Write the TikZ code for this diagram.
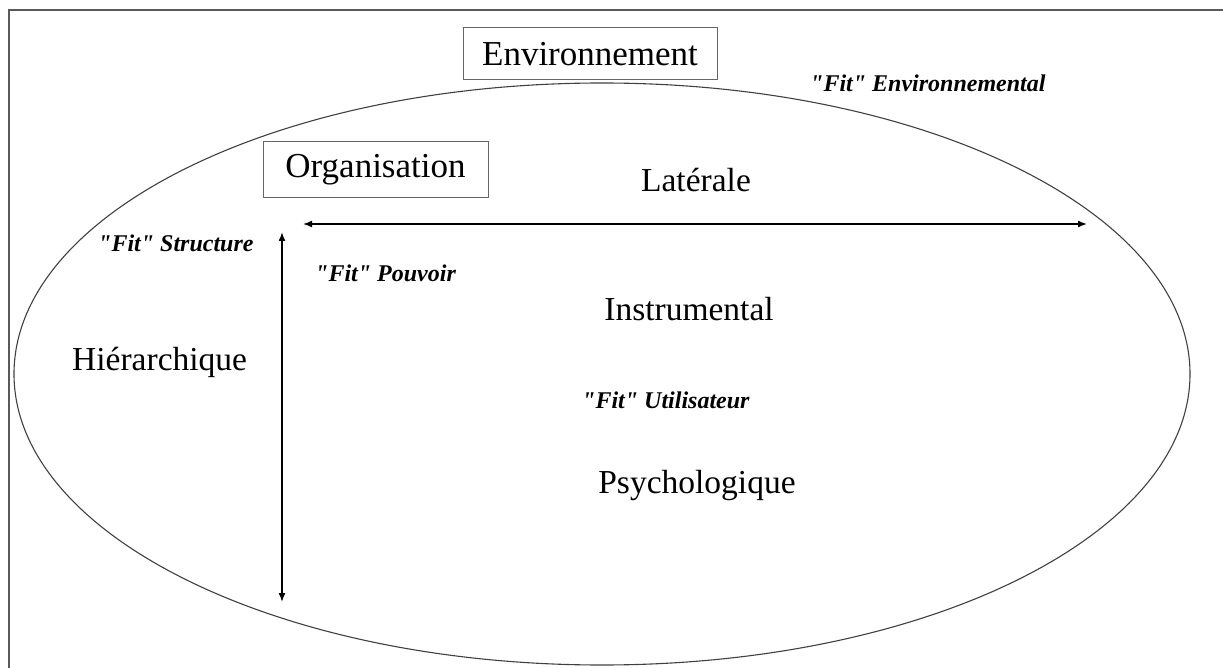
\documentclass[tikz,border=0pt]{standalone}
\usepackage{fontspec}
\setmainfont{Liberation Serif}
\newfontfamily\fitfont{Liberation Serif}[Ligatures=TeXOff]
\usetikzlibrary{arrows.meta}
\tikzset{
  boxlabel/.style={draw=black!60, line width=1pt, inner sep=0pt, font=\fontsize{35}{40}\selectfont},
  biglabel/.style={inner sep=0pt, font=\fontsize{33.5}{38}\selectfont},
  fitlabel/.style={inner sep=0pt, font=\fitfont\fontsize{24}{27}\selectfont\bfseries\itshape},
  dblarrow/.style={line width=1.6pt, {Latex[length=9pt,width=7pt]}-{Latex[length=9pt,width=7pt]}},
  frameline/.style={draw=black!65, line width=1.5pt},
  orbit/.style={draw=black!75, line width=1.1pt}
}
\begin{document}
\begin{tikzpicture}[x=1pt,y=-1pt]
\useasboundingbox (0,0) rectangle (1223,668);
% frame (left and top edges)
\coordinate (fBL) at (9,668);
\coordinate (fTL) at (9,10);
\coordinate (fTR) at (1223,10);
\draw[frameline] (fBL) -- (fTL) -- (fTR);
% ellipse
\coordinate (ec) at (602,374);
\draw[orbit] (ec) ellipse [x radius=588pt, y radius=291pt];
% boxes
\node[boxlabel, minimum width=254pt, minimum height=52pt] (env) at (590,54) {Environnement};
\node[boxlabel, minimum width=225pt, minimum height=56pt] (org) at (375.5,170) {Organisation};
% fit labels
\node[fitlabel, anchor=base west] (fenv) at (810,92) {"Fit" Environnemental};
\node[fitlabel, anchor=base west] (fstr) at (98,252) {"Fit" Structure};
\node[fitlabel, anchor=base west] (fpou) at (315,282) {"Fit" Pouvoir};
\node[fitlabel, anchor=base west] (futi) at (582,408) {"Fit" Utilisateur};
% main labels
\node[biglabel, anchor=base] (lat) at (696,192) {Latérale};
\node[biglabel, anchor=base] (ins) at (689,320) {Instrumental};
\node[biglabel, anchor=base west] (hie) at (72,370) {Hiérarchique};
\node[biglabel, anchor=base] (psy) at (697,493) {Psychologique};
% arrows
\coordinate (hL) at (303,224);
\coordinate (hR) at (1087,224);
\coordinate (vT) at (282,232);
\coordinate (vB) at (282,602);
\draw[dblarrow] (hL) -- (hR);
\draw[dblarrow] (vT) -- (vB);
\end{tikzpicture}
\end{document}
